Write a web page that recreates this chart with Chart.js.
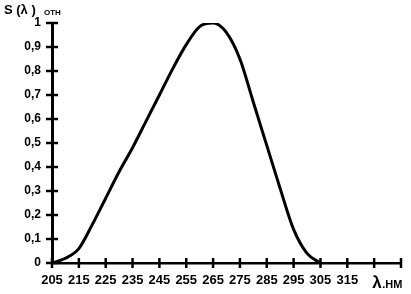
<!DOCTYPE html>
<html>
<head>
    <title>S(λ)</title>
    <script src="https://cdn.jsdelivr.net/npm/chart.js"></script>
    <style>
        html, body { margin: 0; padding: 0; background: #fff; }
        #wrap { width: 411px; height: 294px; }
    </style>
</head>
<body>
    <div id="wrap"><canvas id="chart"></canvas></div>

    <script>
        // длины волн, нм
        var wavelengths = [205, 210, 215, 220, 225, 230, 235, 240, 245, 250, 255, 260, 265, 270, 275, 280, 285, 290, 295, 300, 305];
        // относительная чувствительность S(λ)
        var sValues = [0, 0.02, 0.06, 0.16, 0.27, 0.38, 0.48, 0.59, 0.70, 0.81, 0.91, 0.985, 1.0, 0.96, 0.85, 0.67, 0.49, 0.31, 0.14, 0.04, 0];
        // подписи оси X (325 и 335 без подписи)
        var xTickLabels = ['205', '215', '225', '235', '245', '255', '265', '275', '285', '295', '305', '315', '', ''];

        var points = wavelengths.map(function (w, i) { return { x: w, y: sValues[i] }; });

        // засечки поперек осей и подписи осей
        var axisExtras = {
            id: 'axisExtras',
            afterDraw: function (chart) {
                var ctx = chart.ctx;
                var xs = chart.scales.x, ys = chart.scales.y;
                var area = chart.chartArea;
                ctx.save();
                ctx.strokeStyle = '#000';
                ctx.lineWidth = 2.5;
                xs.ticks.forEach(function (t) {
                    var px = xs.getPixelForValue(t.value);
                    ctx.beginPath();
                    ctx.moveTo(px, area.bottom - 5);
                    ctx.lineTo(px, area.bottom + 5);
                    ctx.stroke();
                });
                ys.ticks.forEach(function (t) {
                    var py = ys.getPixelForValue(t.value);
                    ctx.beginPath();
                    ctx.moveTo(area.left - 6, py);
                    ctx.lineTo(area.left + 6, py);
                    ctx.stroke();
                });

                ctx.fillStyle = '#000';
                ctx.textBaseline = 'alphabetic';
                ctx.textAlign = 'left';
                ctx.font = 'bold 13px "Liberation Sans", Arial, sans-serif';
                ctx.fillText('S (λ )', 4, 14);
                ctx.font = 'bold 8px "Liberation Sans", Arial, sans-serif';
                ctx.fillText('ОТН', 44, 15);

                var lx = xs.getPixelForValue(325) - 2;
                ctx.font = 'bold 17px "Liberation Sans", Arial, sans-serif';
                ctx.fillText('λ', lx, 288);
                ctx.font = 'bold 11px "Liberation Sans", Arial, sans-serif';
                ctx.fillText('.НМ', lx + 10, 288);
                ctx.restore();
            }
        };

        var ctx = document.getElementById('chart').getContext('2d');
        new Chart(ctx, {
            type: 'scatter',
            data: {
                datasets: [{
                    data: points,
                    showLine: true,
                    borderColor: '#000',
                    borderWidth: 3,
                    pointRadius: 0,
                    cubicInterpolationMode: 'monotone',
                    fill: false
                }]
            },
            options: {
                responsive: true,
                maintainAspectRatio: false,
                animation: false,
                layout: { padding: { top: 23, right: 8, left: 0, bottom: 0 } },
                plugins: {
                    legend: { display: false },
                    tooltip: { enabled: false }
                },
                scales: {
                    x: {
                        type: 'linear',
                        min: 205,
                        max: 335,
                        afterFit: function (s) { s.height = 31; },
                        grid: { display: false, drawTicks: false },
                        border: { display: true, color: '#000', width: 2.5 },
                        ticks: {
                            stepSize: 10,
                            padding: 10,
                            maxRotation: 0,
                            autoSkip: false,
                            color: '#000',
                            font: { family: '"Liberation Sans", Arial, sans-serif', size: 13, weight: 'bold' },
                            callback: function (v, i) { return xTickLabels[i]; }
                        }
                    },
                    y: {
                        min: 0,
                        max: 1,
                        afterFit: function (s) { s.width = 52; },
                        grid: { display: false, drawTicks: false },
                        border: { display: true, color: '#000', width: 3 },
                        ticks: {
                            stepSize: 0.1,
                            padding: 11,
                            color: '#000',
                            font: { family: '"Liberation Sans", Arial, sans-serif', size: 12, weight: 'bold' },
                            callback: function (v) {
                                return String(Math.round(v * 10) / 10).replace('.', ',');
                            }
                        }
                    }
                }
            },
            plugins: [axisExtras]
        });
    </script>
</body>
</html>
